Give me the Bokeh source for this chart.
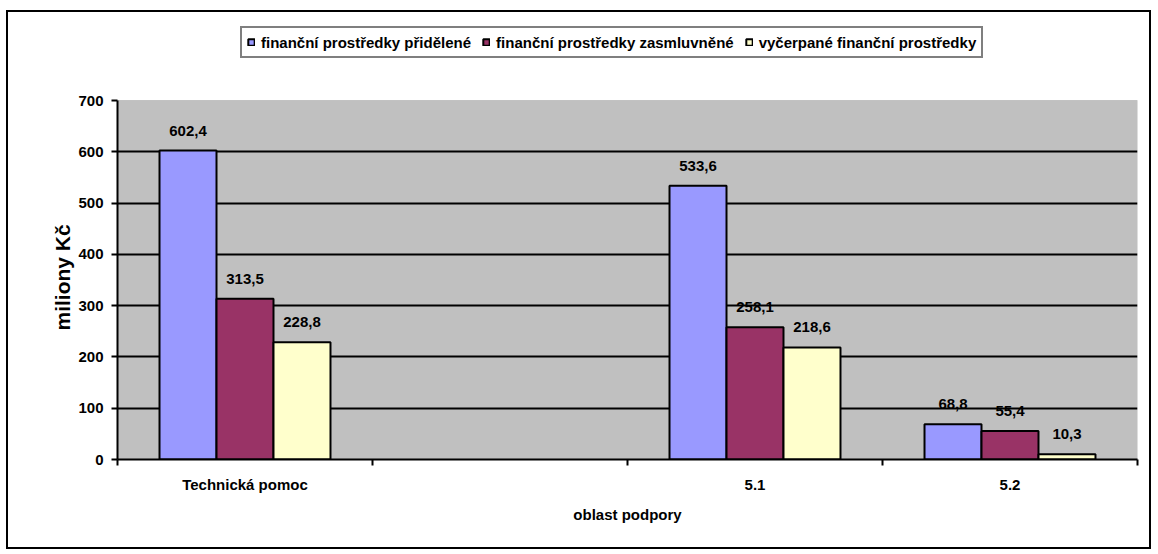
from bokeh.plotting import figure
from bokeh.models import (Range1d, FixedTicker, ColumnDataSource, Legend, LegendItem, Title,
                          BoxAnnotation)
from bokeh.core.properties import value
from bokeh.embed import file_html
from bokeh.resources import INLINE

# ---- data ----
categories = ["Technická pomoc", " ", "5.1", "5.2"]
bar_categories = ["Technická pomoc", "5.1", "5.2"]
pridelene = [602.4, 533.6, 68.8]
zasmluvnene = [313.5, 258.1, 55.4]
vycerpane = [228.8, 218.6, 10.3]
series_names = ["finanční prostředky přidělené",
                "finanční prostředky zasmluvněné",
                "vyčerpané finanční prostředky"]
series_values = [pridelene, zasmluvnene, vycerpane]
colors = ["#9999FF", "#993366", "#FFFFCC"]
y_ticks = [0, 100, 200, 300, 400, 500, 600, 700]
y_label = "miliony Kč"
x_label = "oblast podpory"

FONT = "Liberation Sans"

# layout (pixels)
PLOT_H = 359      # height of the grey plot area
FRAME_H = 439     # frame also holds the legend above the plot area
y_top = y_ticks[-1] * FRAME_H / PLOT_H

p = figure(x_range=Range1d(0, len(categories)),
           y_range=Range1d(y_ticks[0], y_top),
           frame_width=1020, frame_height=FRAME_H,
           min_border_left=117, min_border_right=21, min_border_top=20, min_border_bottom=95,
           output_backend="svg", toolbar_location=None, tools="")

p.background_fill_color = "white"
p.border_fill_color = "white"
p.outline_line_color = None
# outer chart border drawn as an overlay above the canvas layers
p.stylesheets = [
    ":host { position: relative; }",
    ":host::after { content: ''; position: absolute; left: 6px; top: 10px; "
    "width: 1145px; height: 539px; box-sizing: border-box; border: 2px solid black; "
    "z-index: 1000; pointer-events: none; }",
]

# grey plot area
p.add_layout(BoxAnnotation(left=0, right=len(categories), bottom=y_ticks[0], top=y_ticks[-1],
                           fill_color="#C0C0C0", fill_alpha=1,
                           line_color="#808080", line_width=1, level="image"))

# grid
p.xgrid.visible = False
p.ygrid.ticker = FixedTicker(ticks=y_ticks[1:-1])
p.ygrid.grid_line_color = "black"
p.ygrid.grid_line_width = 2

# y axis
ya = p.yaxis[0]
ya.ticker = FixedTicker(ticks=y_ticks)
ya.bounds = (y_ticks[0], y_ticks[-1])
ya.axis_line_color = "black"
ya.axis_line_width = 2
ya.major_tick_line_color = "black"
ya.major_tick_line_width = 2
ya.major_tick_out = 6
ya.major_tick_in = 0
ya.minor_tick_line_color = None
ya.major_label_standoff = 8
ya.major_label_text_font = FONT
ya.major_label_text_font_style = "bold"
ya.major_label_text_font_size = "15px"
ya.major_label_text_color = "black"

# y axis title, centred on the grey plot area (not on the whole frame)
ytitle = Title(text=y_label, align="left", offset=129, standoff=3,
               text_font=FONT, text_font_style="bold", text_font_size="21px",
               text_color="black")
p.add_layout(ytitle, "left")

# x axis: labels at category centres, tick marks at category boundaries
centers = [i + 0.5 for i in range(len(categories))]
bounds = [float(i) for i in range(len(categories) + 1)]
xa = p.xaxis[0]
xa.ticker = FixedTicker(ticks=centers, minor_ticks=bounds)
xa.major_label_overrides = {c: lab for c, lab in zip(centers, categories)}
xa.axis_line_color = "black"
xa.axis_line_width = 2
xa.major_tick_line_color = None
xa.major_tick_out = 6
xa.major_tick_in = 0
xa.minor_tick_line_color = "black"
xa.minor_tick_line_width = 2
xa.minor_tick_out = 6
xa.minor_tick_in = 0
xa.major_label_standoff = 10
xa.major_label_text_font = FONT
xa.major_label_text_font_style = "bold"
xa.major_label_text_font_size = "15px"
xa.major_label_text_color = "black"
xa.axis_label = x_label
xa.axis_label_text_font = FONT
xa.axis_label_text_font_style = "bold"
xa.axis_label_text_font_size = "15px"
xa.axis_label_text_color = "black"
xa.axis_label_standoff = 10

# bars
bw = 0.2235
offsets = [-bw, 0.0, bw]
cat_pos = [categories.index(c) + 0.5 for c in bar_categories]
items = []
for name, vals, col, off in zip(series_names, series_values, colors, offsets):
    src = ColumnDataSource(dict(x=[c + off for c in cat_pos], val=vals,
                                lab=[f"{v:.1f}".replace(".", ",") for v in vals]))
    r = p.vbar(x="x", top="val", width=bw, bottom=0,
               source=src, fill_color=col, line_color="black", line_width=2)
    p.text(x="x", y="val", text="lab", source=src,
           text_font=value(FONT), text_font_style="bold", text_font_size="15px",
           text_align="center", text_baseline="alphabetic", y_offset=-20,
           text_color="black")
    items.append(LegendItem(label=name, renderers=[r]))

legend = Legend(items=items, orientation="horizontal", location=(123, 401))
legend.label_text_font = FONT
legend.label_text_font_style = "bold"
legend.label_text_font_size = "15px"
legend.label_text_color = "black"
legend.glyph_width = 8
legend.glyph_height = 8
legend.label_standoff = 6
legend.spacing = 11
legend.padding = 5
legend.margin = 0
legend.label_height = 18
legend.border_line_color = "black"
legend.border_line_width = 2
legend.background_fill_color = "white"
legend.background_fill_alpha = 1
p.add_layout(legend, "center")

open("out.html", "w").write(file_html(p, INLINE))
